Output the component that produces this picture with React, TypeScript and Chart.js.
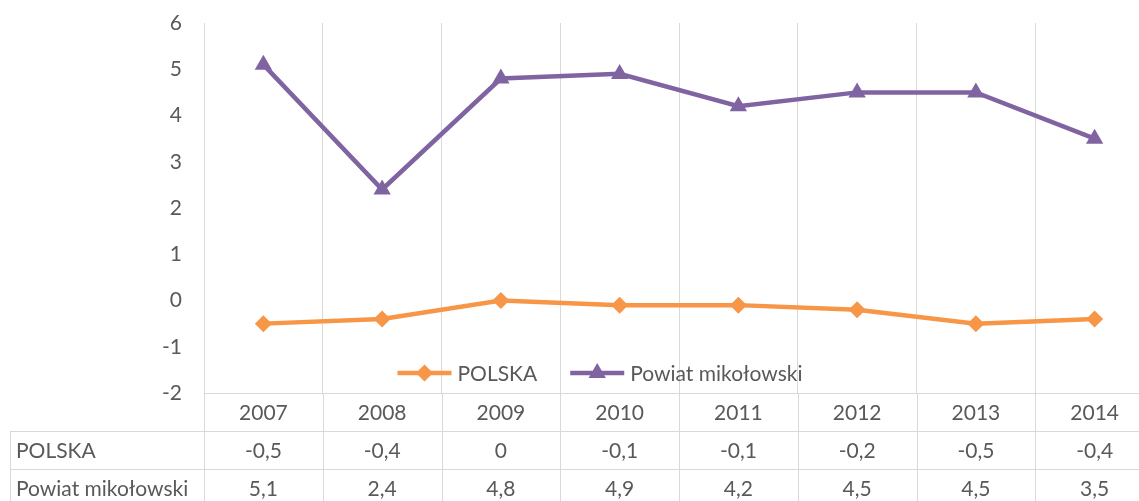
import React, { useEffect, useRef } from "react";
import { Chart, registerables } from "chart.js";

Chart.register(...registerables);

const categories = ["2007", "2008", "2009", "2010", "2011", "2012", "2013", "2014"];
const polska = [-0.5, -0.4, 0, -0.1, -0.1, -0.2, -0.5, -0.4];
const powiat = [5.1, 2.4, 4.8, 4.9, 4.2, 4.5, 4.5, 3.5];
const seriesNames = ["POLSKA", "Powiat mikołowski"];
const yMin = -2;
const yMax = 6;

const ORANGE = "#F79646";
const PURPLE = "#8064A2";
const GRID = "#D9D9D9";
const TEXT = "#595959";
const FONT_FAMILY = "Lato, 'Open Sans', sans-serif";
const FONT_SIZE = 21;

const fmt = (v: number) => String(v).replace(".", ",");

function drawMarker(ctx: CanvasRenderingContext2D, style: string, x: number, y: number, r: number, color: string) {
  ctx.save();
  ctx.fillStyle = color;
  ctx.beginPath();
  if (style === "rectRot") {
    ctx.moveTo(x, y - r);
    ctx.lineTo(x + r, y);
    ctx.lineTo(x, y + r);
    ctx.lineTo(x - r, y);
  } else {
    const w = r * Math.sqrt(3) / 2;
    ctx.moveTo(x, y - r);
    ctx.lineTo(x + w, y + r / 2);
    ctx.lineTo(x - w, y + r / 2);
  }
  ctx.closePath();
  ctx.fill();
  ctx.restore();
}

const tablePlugin = {
  id: "dataTable",
  afterDraw(chart: any) {
    const { ctx, chartArea } = chart;
    const xs = chart.scales.x;
    const n = categories.length;
    const step = xs.getPixelForValue(1) - xs.getPixelForValue(0);
    const top = Math.round(chartArea.bottom);
    const rowH = 38;
    const right = chart.width;
    const bottom = chart.height;
    const tableLeft = 10;
    ctx.save();
    ctx.strokeStyle = GRID;
    ctx.lineWidth = 1;
    const line = (x1: number, y1: number, x2: number, y2: number) => {
      ctx.beginPath();
      ctx.moveTo(x1, y1);
      ctx.lineTo(x2, y2);
      ctx.stroke();
    };
    line(chartArea.left, top + 0.5, right, top + 0.5);
    for (let r = 1; r <= 2; r++) {
      const yy = top + r * rowH + 0.5;
      line(tableLeft, yy, right, yy);
    }
    for (let i = 0; i <= n; i++) {
      const bx = Math.round(xs.getPixelForValue(0) - step / 2 + i * step) + 0.5;
      line(bx, top, bx, bottom);
    }
    line(tableLeft + 0.5, top + rowH, tableLeft + 0.5, bottom);

    ctx.fillStyle = TEXT;
    ctx.font = `${FONT_SIZE}px ${FONT_FAMILY}`;
    ctx.textBaseline = "middle";
    ctx.textAlign = "center";
    const rows = [polska, powiat];
    categories.forEach((c, i) => {
      const cx = xs.getPixelForValue(i);
      ctx.fillText(c, cx, top + rowH / 2 + 1);
      rows.forEach((vals, r) => {
        ctx.fillText(fmt(vals[i]), cx, top + (r + 1) * rowH + rowH / 2 + 1);
      });
    });
    ctx.textAlign = "left";
    seriesNames.forEach((name, r) => {
      ctx.fillText(name, tableLeft + 6, top + (r + 1) * rowH + rowH / 2 + 1);
    });

    // legend
    const ly = 373;
    const lineLen = 54;
    const gapText = 6;
    const gapItem = 33;
    const items = [
      { name: seriesNames[0], color: ORANGE, style: "rectRot", r: 8.5 },
      { name: seriesNames[1], color: PURPLE, style: "triangle", r: 10 },
    ];
    const widths = items.map((it) => lineLen + gapText + ctx.measureText(it.name).width);
    const total = widths.reduce((a, b) => a + b, 0) + gapItem;
    let lx = 600 - total / 2;
    items.forEach((it, k) => {
      ctx.strokeStyle = it.color;
      ctx.lineWidth = 4.5;
      line(lx, ly, lx + lineLen, ly);
      drawMarker(ctx, it.style, lx + lineLen / 2, ly, it.r, it.color);
      ctx.fillStyle = TEXT;
      ctx.fillText(it.name, lx + lineLen + gapText, ly + 1);
      lx += widths[k] + gapItem;
    });
    ctx.restore();
  },
};

export default function App() {
  const ref = useRef<HTMLCanvasElement | null>(null);
  useEffect(() => {
    if (!ref.current) return;
    const chart = new Chart(ref.current, {
      type: "line",
      data: {
        labels: categories,
        datasets: [
          {
            label: seriesNames[0],
            data: polska,
            borderColor: ORANGE,
            backgroundColor: ORANGE,
            borderWidth: 4.5,
            pointStyle: "rectRot",
            pointRadius: 8.5,
            pointBorderWidth: 0,
            pointBackgroundColor: ORANGE,
            tension: 0,
          },
          {
            label: seriesNames[1],
            data: powiat,
            borderColor: PURPLE,
            backgroundColor: PURPLE,
            borderWidth: 4.5,
            pointStyle: "triangle",
            pointRadius: 10,
            pointBorderWidth: 0,
            pointBackgroundColor: PURPLE,
            tension: 0,
          },
        ],
      },
      options: {
        animation: false,
        responsive: false,
        devicePixelRatio: 1,
        layout: { padding: { top: 23, right: 0, bottom: 0, left: 0 } },
        plugins: {
          legend: { display: false },
          tooltip: { enabled: false },
        },
        scales: {
          x: {
            type: "category",
            offset: true,
            grid: { display: true, offset: true, color: GRID, lineWidth: 1, drawTicks: false },
            border: { display: true, color: GRID },
            ticks: { display: false },
            afterFit: (s: any) => {
              s.height = 108;
            },
          },
          y: {
            min: yMin,
            max: yMax,
            grid: { display: false, drawTicks: false },
            border: { display: false },
            ticks: {
              stepSize: 1,
              padding: 22,
              color: TEXT,
              font: { family: FONT_FAMILY, size: FONT_SIZE },
              callback: (v: any) => fmt(Number(v)),
            },
            afterFit: (s: any) => {
              s.width = 204;
              s.paddingTop = 0;
              s.paddingBottom = 0;
            },
          },
        },
      },
      plugins: [tablePlugin],
    });
    return () => chart.destroy();
  }, []);
  return (
    <div style={{ position: "absolute", left: 0, top: 0, width: 1139, height: 501, overflow: "hidden", background: "#fff" }}>
      <canvas ref={ref} width={1164} height={501} style={{ display: "block" }} />
    </div>
  );
}
